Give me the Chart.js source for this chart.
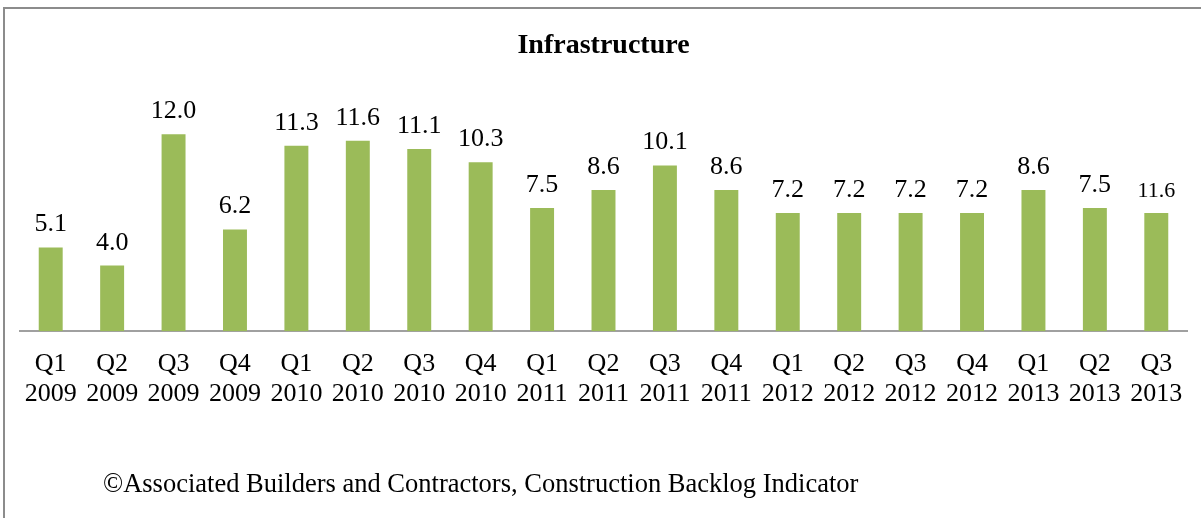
<!DOCTYPE html>
<html>
<head>
<meta charset="utf-8">
<script src="https://cdn.jsdelivr.net/npm/chart.js@4"></script>
<style>
  html, body { margin: 0; padding: 0; background: #fff; overflow: hidden; }
  #wrap { position: relative; width: 1201px; height: 518px; }
  #frame { position: absolute; left: 3px; top: 7px; width: 1300px; height: 600px; border: 2px solid #8c8c8c; box-sizing: border-box; }
  #grafico { position: absolute; left: 0; top: 0; }
  #rodape { position: absolute; left: 103px; top: 468px; font-family: "Liberation Serif", "Times New Roman", serif; font-size: 26.5px; color: #000; white-space: nowrap; }
</style>
</head>
<body>
<div id="wrap">
  <div id="frame"></div>
  <canvas id="grafico" width="1201" height="518"></canvas>
  <div id="rodape">©Associated Builders and Contractors, Construction Backlog Indicator</div>
</div>
<script>
// dados
const trimestres = ['Q1', 'Q2', 'Q3', 'Q4', 'Q1', 'Q2', 'Q3', 'Q4', 'Q1', 'Q2', 'Q3', 'Q4', 'Q1', 'Q2', 'Q3', 'Q4', 'Q1', 'Q2', 'Q3'];
const anos = ['2009', '2009', '2009', '2009', '2010', '2010', '2010', '2010', '2011', '2011', '2011', '2011', '2012', '2012', '2012', '2012', '2013', '2013', '2013'];
const valores = [5.1, 4.0, 12.0, 6.2, 11.3, 11.6, 11.1, 10.3, 7.5, 8.6, 10.1, 8.6, 7.2, 7.2, 7.2, 7.2, 8.6, 7.5, 7.2];
// rótulos como aparecem no original (o último não bate com a barra)
const rotulos = ['5.1', '4.0', '12.0', '6.2', '11.3', '11.6', '11.1', '10.3', '7.5', '8.6', '10.1', '8.6', '7.2', '7.2', '7.2', '7.2', '8.6', '7.5', '11.6'];

const fonte = '"Liberation Serif", "Times New Roman", serif';
const labels = trimestres.map((q, i) => [q, anos[i]]);

// plugin simples pra escrever os valores em cima das barras
const rotuloBarras = {
    id: 'rotuloBarras',
    afterDatasetsDraw(chart) {
        const ctx = chart.ctx;
        const meta = chart.getDatasetMeta(0);
        ctx.save();
        ctx.fillStyle = '#000';
        ctx.textAlign = 'center';
        ctx.textBaseline = 'alphabetic';
        meta.data.forEach((bar, i) => {
            const tam = i === rotulos.length - 1 ? 22 : 26;
            ctx.font = tam + 'px ' + fonte;
            ctx.fillText(rotulos[i], bar.x, bar.y - 16);
        });
        ctx.restore();
    }
};

new Chart(document.getElementById('grafico').getContext('2d'), {
    type: 'bar',
    data: {
        labels: labels,
        datasets: [{
            label: 'Infrastructure',
            data: valores,
            backgroundColor: '#9bbb59',
            categoryPercentage: 1,
            barPercentage: 0.39
        }]
    },
    options: {
        responsive: false,
        animation: false,
        layout: {
            padding: { left: 20, right: 14, top: 0, bottom: 91 }
        },
        plugins: {
            legend: { display: false },
            tooltip: { enabled: false },
            title: {
                display: true,
                text: 'Infrastructure',
                color: '#000',
                font: { family: fonte, size: 28, weight: 'bold' },
                padding: { top: 29, bottom: 38.8 }
            }
        },
        scales: {
            x: {
                grid: { display: false, drawTicks: false },
                border: { display: true, color: '#a0a0a0', width: 2 },
                ticks: {
                    color: '#000',
                    padding: 18,
                    maxRotation: 0,
                    autoSkip: false,
                    font: { family: fonte, size: 26, lineHeight: 1.15 }
                }
            },
            y: {
                display: false,
                min: 0,
                max: 14
            }
        }
    },
    plugins: [rotuloBarras]
});
</script>
</body>
</html>
